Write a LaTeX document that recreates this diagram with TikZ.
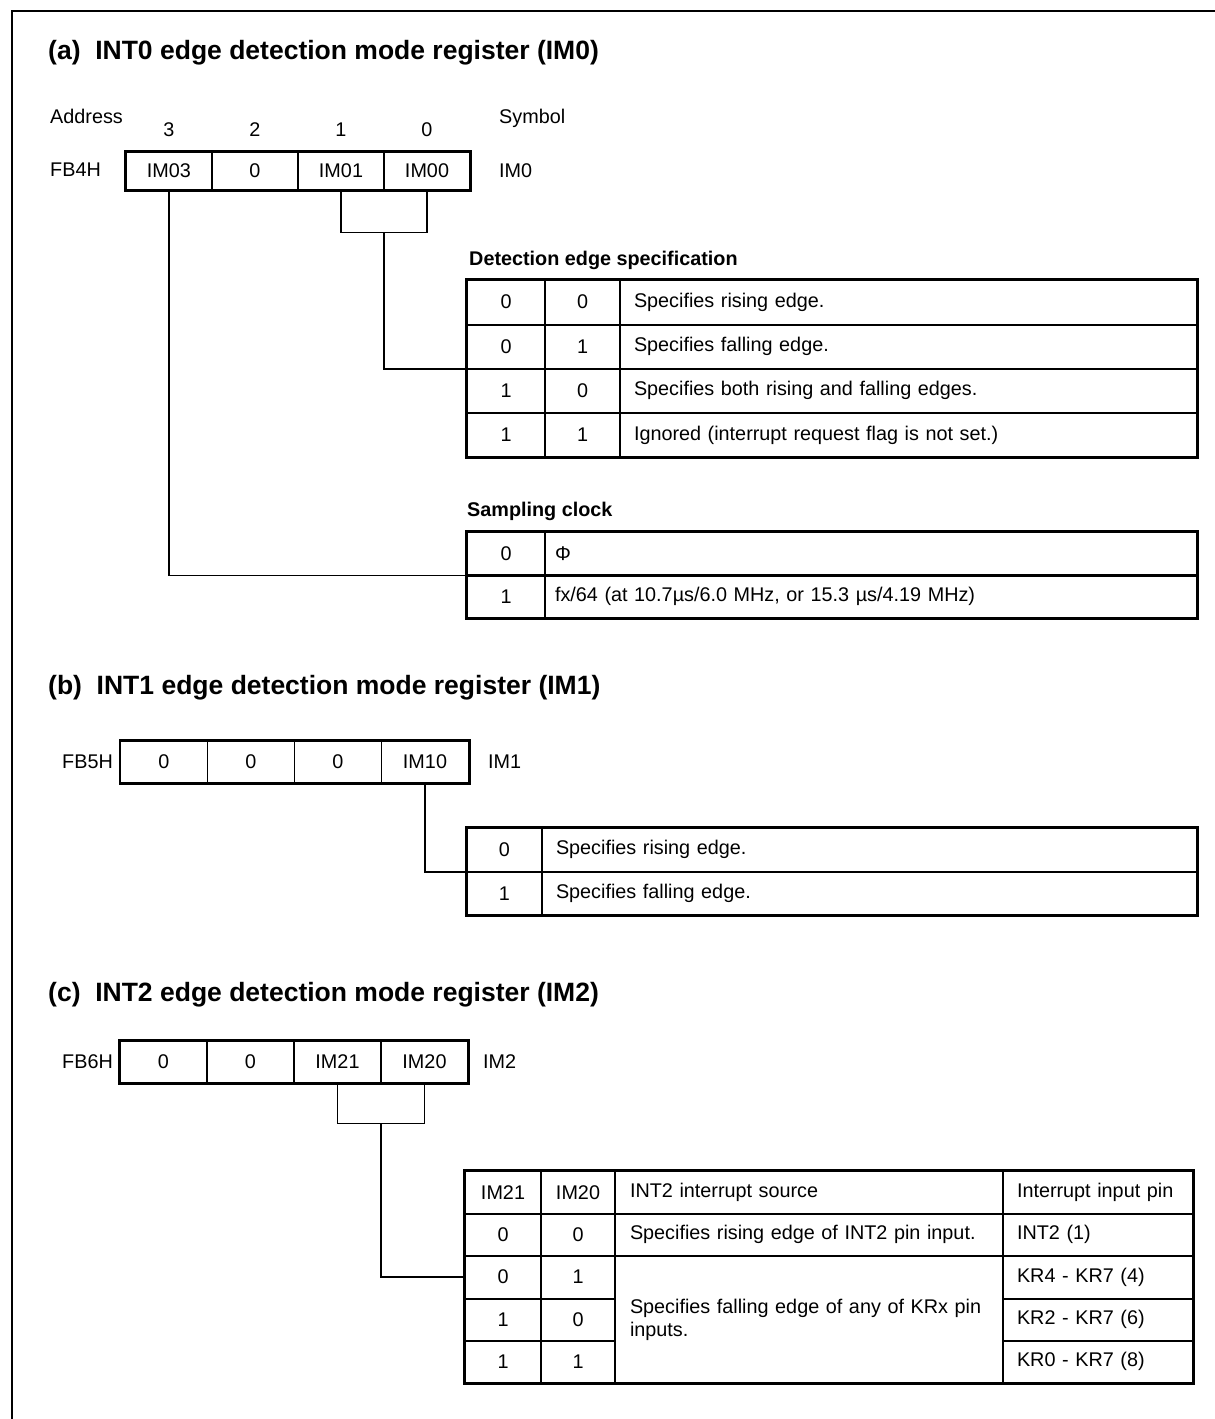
\documentclass[tikz,border=0pt]{standalone}
\usepackage{fontspec}
\setmainfont{Liberation Sans}
\usetikzlibrary{calc}
\tikzset{
  txt/.style={font=\fontsize{19.8}{23}\selectfont,inner sep=0pt},
  ttl/.style={font=\fontsize{26.5}{30}\selectfont\bfseries,inner sep=0pt,anchor=west},
  lbl/.style={font=\fontsize{19.8}{23}\selectfont\bfseries,inner sep=0pt,anchor=west},
  cell/.style={draw,line width=1.2pt,inner sep=0pt,font=\fontsize{19.8}{23}\selectfont},
  regcell/.style={cell,minimum width=86pt,minimum height=38pt},
  regcellb/.style={cell,minimum width=87pt,minimum height=42pt},
  wide/.style={cell,align=left,inner xsep=14pt},
  frame/.style={line width=2.8pt},
  rowline/.style={line width=2pt},
  link/.style={line width=1.4pt},
}
\begin{document}
\begin{tikzpicture}[x=1pt,y=-1pt]
\useasboundingbox (0,0) rectangle (1215,1419);
% page frame
\draw[line width=2.4pt] (12,1419) -- (12,11) -- (1215,11);

% (a) INT0 register
\node[ttl] (ta) at (48,53) {(a)\ \ INT0 edge detection mode register (IM0)};
\node[txt,anchor=west] (adr) at (50,116) {Address};
\node[txt,anchor=west] (sym) at (499,118) {Symbol};
\node[txt,anchor=west] (fb4) at (50,170) {FB4H};
\node[regcell] (im03) at (169,171) {IM03};
\node[regcell] (im02) at (255,171) {0};
\node[regcell] (im01) at (341,171) {IM01};
\node[regcell] (im00) at (427,171) {IM00};
\draw[frame] (im03.north west) rectangle (im00.south east);
\node[txt,anchor=west] (sa) at (499,171) {IM0};
\foreach \x/\b in {169/3,255/2,341/1,427/0}
  \node[txt] (bit\b) at (\x,130) {\b};

% detection edge table
\node[lbl] (dlab) at (469,260) {Detection edge specification};
\node[cell,minimum width=78pt,minimum height=44.25pt] (d0a) at (506,302.1) {0};
\node[cell,minimum width=75pt,minimum height=44.25pt] (d0b) at (582.5,302.1) {0};
\node[wide,text width=549pt,minimum height=44.25pt] (d0c) at (908.5,302.1) {Specifies rising edge.};
\node[cell,minimum width=78pt,minimum height=44.25pt] (d1a) at (506,346.4) {0};
\node[cell,minimum width=75pt,minimum height=44.25pt] (d1b) at (582.5,346.4) {1};
\node[wide,text width=549pt,minimum height=44.25pt] (d1c) at (908.5,346.4) {Specifies falling edge.};
\node[cell,minimum width=78pt,minimum height=44.25pt] (d2a) at (506,390.6) {1};
\node[cell,minimum width=75pt,minimum height=44.25pt] (d2b) at (582.5,390.6) {0};
\node[wide,text width=549pt,minimum height=44.25pt] (d2c) at (908.5,390.6) {Specifies both rising and falling edges.};
\node[cell,minimum width=78pt,minimum height=44.25pt] (d3a) at (506,434.9) {1};
\node[cell,minimum width=75pt,minimum height=44.25pt] (d3b) at (582.5,434.9) {1};
\node[wide,text width=549pt,minimum height=44.25pt] (d3c) at (908.5,434.9) {Ignored (interrupt request flag is not set.)};
\foreach \a/\c in {d0a/d0c,d1a/d1c,d2a/d2c}
  \draw[rowline] (\a.south west) -- (\c.south east);
\draw[frame] (d0a.north west) rectangle (d3c.south east);

% sampling clock table
\node[lbl] (slab) at (467,511) {Sampling clock};
\node[cell,minimum width=78pt,minimum height=43pt] (s0a) at (506,553.5) {0};
\node[wide,inner xsep=10pt,text width=632pt,minimum height=43pt] (s0b) at (871,553.5) {Φ};
\node[cell,minimum width=78pt,minimum height=43pt] (s1a) at (506,596.5) {1};
\node[wide,inner xsep=10pt,text width=632pt,minimum height=43pt] (s1b) at (871,596.5) {fx/64 (at 10.7µs/6.0 MHz, or 15.3 µs/4.19 MHz)};
\draw[rowline] (s0a.south west) -- (s0b.south east);
\draw[frame] (s0a.north west) rectangle (s1b.south east);

% (a) connectors
\draw[link] (im01.south) -- ++(0,42) coordinate (ka) -| (im00.south);
\coordinate (ma) at ($(ka)!0.5!(ka -| im00.south)$);
\draw[link] (ma) |- (d1a.south west);
\draw[link] (im03.south) |- (s0a.south west);

% (b) INT1 register
\node[ttl] (tb) at (48,688) {(b)\ \ INT1 edge detection mode register (IM1)};
\node[txt,anchor=west] (fb5) at (62,762) {FB5H};
\node[regcellb] (im13) at (164,762) {0};
\node[regcellb] (im12) at (251,762) {0};
\node[regcellb] (im11) at (338,762) {0};
\node[regcellb] (im10) at (425,762) {IM10};
\draw[frame] (im13.north west) rectangle (im10.south east);
\node[txt,anchor=west] (sb) at (488,762) {IM1};
\node[cell,minimum width=75pt,minimum height=43.5pt] (b0a) at (504.5,849.8) {0};
\node[wide,text width=627pt,minimum height=43.5pt] (b0b) at (869.5,849.8) {Specifies rising edge.};
\node[cell,minimum width=75pt,minimum height=43.5pt] (b1a) at (504.5,893.3) {1};
\node[wide,text width=627pt,minimum height=43.5pt] (b1b) at (869.5,893.3) {Specifies falling edge.};
\draw[rowline] (b0a.south west) -- (b0b.south east);
\draw[frame] (b0a.north west) rectangle (b1b.south east);
\draw[link] (im10.south) |- (b0a.south west);

% (c) INT2 register
\node[ttl] (tc) at (48,995) {(c)\ \ INT2 edge detection mode register (IM2)};
\node[txt,anchor=west] (fb6) at (62,1062) {FB6H};
\node[regcellb] (im23) at (163.5,1062) {0};
\node[regcellb] (im22) at (250.5,1062) {0};
\node[regcellb] (im21) at (337.5,1062) {IM21};
\node[regcellb] (im20) at (424.5,1062) {IM20};
\draw[frame] (im23.north west) rectangle (im20.south east);
\node[txt,anchor=west] (sc) at (483,1062) {IM2};

% interrupt source table
\node[cell,minimum width=76pt,minimum height=42.4pt] (hca) at (503,1192.2) {IM21};
\node[cell,minimum width=74pt,minimum height=42.4pt] (hcb) at (578,1192.2) {IM20};
\node[wide,inner xsep=15pt,text width=358pt,minimum height=42.4pt] (hcc) at (809,1192.2) {INT2 interrupt source};
\node[wide,text width=162pt,minimum height=42.4pt] (hcd) at (1098,1192.2) {Interrupt input pin};
\node[cell,minimum width=76pt,minimum height=42.4pt] (c1a) at (503,1234.6) {0};
\node[cell,minimum width=74pt,minimum height=42.4pt] (c1b) at (578,1234.6) {0};
\node[wide,inner xsep=15pt,text width=358pt,minimum height=42.4pt] (c1c) at (809,1234.6) {Specifies rising edge of INT2 pin input.};
\node[wide,text width=162pt,minimum height=42.4pt] (c1d) at (1098,1234.6) {INT2 (1)};
\node[cell,minimum width=76pt,minimum height=42.4pt] (c2a) at (503,1277) {0};
\node[cell,minimum width=74pt,minimum height=42.4pt] (c2b) at (578,1277) {1};
\node[wide,text width=162pt,minimum height=42.4pt] (c2d) at (1098,1277) {KR4 - KR7 (4)};
\node[cell,minimum width=76pt,minimum height=42.4pt] (c3a) at (503,1319.4) {1};
\node[cell,minimum width=74pt,minimum height=42.4pt] (c3b) at (578,1319.4) {0};
\node[wide,text width=162pt,minimum height=42.4pt] (c3d) at (1098,1319.4) {KR2 - KR7 (6)};
\node[cell,minimum width=76pt,minimum height=42.4pt] (c4a) at (503,1361.8) {1};
\node[cell,minimum width=74pt,minimum height=42.4pt] (c4b) at (578,1361.8) {1};
\node[wide,text width=162pt,minimum height=42.4pt] (c4d) at (1098,1361.8) {KR0 - KR7 (8)};
\node[wide,inner xsep=15pt,text width=358pt,minimum height=127.2pt] (c2c) at (809,1319.4) {Specifies falling edge of any of KRx pin\\inputs.};
\foreach \a/\c in {hca/hcd,c1a/c1d,c2a/c2b,c3a/c3b,c2d/c2d,c3d/c3d}
  \draw[rowline] (\a.south west) -- (\c.south east);
\draw[frame] (hca.north west) rectangle (c4d.south east);

% (c) connectors
\draw[link] (im21.south) -- ++(0,40) coordinate (kc) -| (im20.south);
\coordinate (mc) at ($(kc)!0.5!(kc -| im20.south)$);
\draw[link] (mc) |- (c2a.west);
\end{tikzpicture}
\end{document}
